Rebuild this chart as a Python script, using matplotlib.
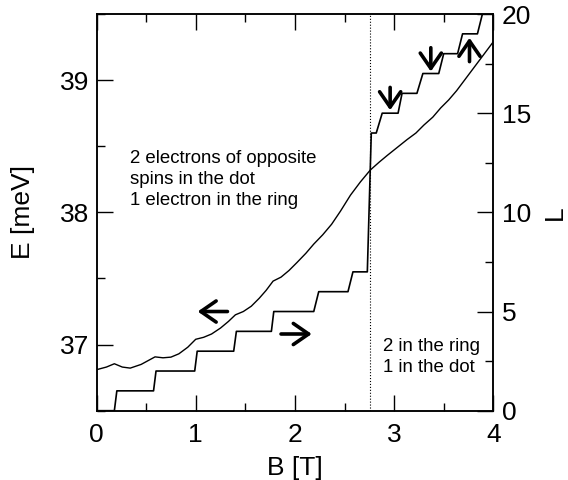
import numpy as np
import matplotlib
matplotlib.use("Agg")
import matplotlib.pyplot as plt
from matplotlib.ticker import MultipleLocator

plt.rcParams['font.family'] = ['Liberation Sans', 'DejaVu Sans']

# ground state energy vs field (left axis)
B_energy = [0.00, 0.10, 0.18, 0.26, 0.34, 0.45, 0.59, 0.67, 0.75, 0.83, 0.92,
            1.00, 1.08, 1.16, 1.25, 1.33, 1.40, 1.48, 1.56, 1.64, 1.71, 1.78,
            1.86, 1.94, 2.02, 2.11, 2.19, 2.28, 2.37, 2.46, 2.56, 2.66, 2.76,
            2.85, 2.93, 3.03, 3.13, 3.22, 3.30, 3.39, 3.47, 3.55, 3.63, 3.72,
            3.80, 3.90, 4.00]
E_meV = [36.81, 36.83, 36.855, 36.83, 36.822, 36.85, 36.907, 36.90, 36.905, 36.93, 36.98,
         37.04, 37.055, 37.08, 37.125, 37.175, 37.225, 37.25, 37.29, 37.35, 37.41, 37.48,
         37.51, 37.56, 37.62, 37.69, 37.76, 37.83, 37.91, 38.01, 38.13, 38.23, 38.32,
         38.38, 38.43, 38.49, 38.55, 38.60, 38.66, 38.72, 38.79, 38.85, 38.92, 39.01,
         39.09, 39.19, 39.29]

# angular momentum L (right axis): plateaus and the field range of each jump
L_levels = [0, 1, 2, 3, 4, 5, 6, 7, 14, 15, 16, 17, 18, 19, 20]
B_jump_start = [0.18, 0.575, 0.99, 1.383, 1.763, 2.19, 2.535, 2.73, 2.82, 3.04, 3.23, 3.45, 3.64, 3.84]
B_jump_end = [0.205, 0.60, 1.015, 1.41, 1.787, 2.24, 2.585, 2.77, 2.88, 3.08, 3.29, 3.50, 3.69, 3.89]

B_transition = 2.76

# arrows: (tail, tip)
E_arrows = [((1.32, 37.25), (1.02, 37.25)), ((1.86, 37.08), (2.17, 37.08))]
L_arrows = [((2.96, 16.3), (2.96, 15.15)), ((3.37, 18.3), (3.37, 17.1)), ((3.76, 17.6), (3.76, 18.8))]

# staircase with slightly slanted risers
L_B = [0.0]
L_y = [L_levels[0]]
for i in range(len(B_jump_start)):
    L_B += [B_jump_start[i], B_jump_end[i]]
    L_y += [L_levels[i], L_levels[i + 1]]
L_B.append(4.0)
L_y.append(L_levels[-1])

fig = plt.figure(figsize=(5.68, 4.8), dpi=100)
ax = fig.add_axes([0.1699, 0.1444, 0.6986, 0.8264])
ax2 = ax.twinx()

ax.plot(B_energy, E_meV, color='k', lw=1.0)
ax2.plot(L_B, L_y, color='k', lw=1.2, clip_on=True)
ax.axvline(B_transition, color='k', ls=':', lw=0.8)

ax.set_xlim(0, 4)
ax.set_ylim(36.5, 39.5)
ax2.set_ylim(0, 20)

ax.xaxis.set_major_locator(MultipleLocator(1))
ax.xaxis.set_minor_locator(MultipleLocator(0.5))
ax.yaxis.set_major_locator(MultipleLocator(1))
ax.yaxis.set_minor_locator(MultipleLocator(0.5))
ax2.yaxis.set_major_locator(MultipleLocator(5))
ax2.yaxis.set_minor_locator(MultipleLocator(2.5))

ax.tick_params(which='both', direction='in', top=True, right=False, width=1.0, labelsize=19)
ax.tick_params(which='major', length=11.5)
ax.tick_params(which='minor', length=5.8)
ax.tick_params(axis='x', pad=9)
ax.tick_params(axis='y', pad=5)
ax2.tick_params(which='both', direction='in', width=1.0, labelsize=19, pad=6)
ax2.tick_params(which='major', length=11.5)
ax2.tick_params(which='minor', length=5.8)

for a in (ax, ax2):
    for s in a.spines.values():
        s.set_linewidth(1.1)

ax.set_xlabel('B [T]', fontsize=19)
ax.set_ylabel('E [meV]', fontsize=19)
ax2.set_ylabel('L', fontsize=19)
ax.xaxis.set_label_coords(0.5, -0.115)
ax.yaxis.set_label_coords(-0.155, 0.5)
ax2.yaxis.set_label_coords(1.125, 0.5)

ax.text(0.333, 38.47, '2 electrons of opposite\nspins in the dot\n1 electron in the ring',
        fontsize=13.4, va='top', ha='left', linespacing=1.3)
ax.text(2.89, 37.05, '2 in the ring\n1 in the dot',
        fontsize=13.4, va='top', ha='left', linespacing=1.3)

arrow_style = dict(arrowstyle='->, head_length=0.55, head_width=0.38', lw=2.6,
                   color='k', mutation_scale=20, shrinkA=0, shrinkB=0)
for tail, tip in E_arrows:
    ax.annotate('', xy=tip, xytext=tail, arrowprops=arrow_style)
for tail, tip in L_arrows:
    ax2.annotate('', xy=tip, xytext=tail, arrowprops=arrow_style)

fig.savefig('out.png', dpi=100)
